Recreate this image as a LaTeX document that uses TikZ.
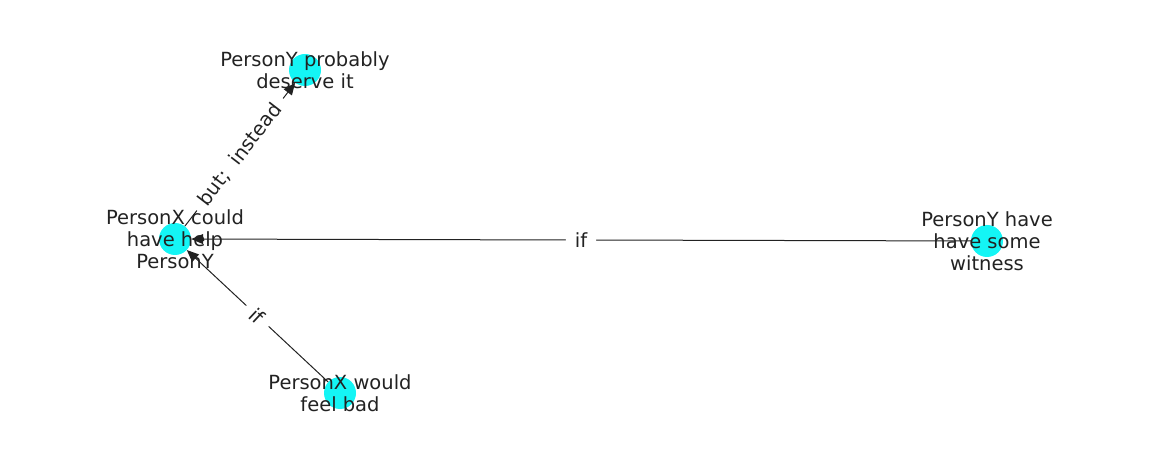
\documentclass[tikz,border=0pt]{standalone}
\usepackage{fontspec}
\setmainfont{DejaVu Sans}
\usepackage{tikz}
\usetikzlibrary{arrows.meta}
\definecolor{nodecyan}{RGB}{20,245,245}
\definecolor{inkgray}{RGB}{34,34,34}

\begin{document}
\begin{tikzpicture}[x=1pt,y=-1pt,font=\fontsize{19.5pt}{22pt}\selectfont,
  dot/.style={circle,fill=nodecyan,minimum size=32pt,inner sep=0pt},
  lbl/.style={align=center,text=inkgray,inner sep=0pt},
  arr/.style={-{Triangle[length=12pt,width=10pt]},draw=inkgray,line width=1pt},
  elbl/.style={midway,sloped,fill=white,text=inkgray,inner xsep=9pt,inner ysep=3pt}]
\useasboundingbox (0,0) rectangle (1162,462);
% nodes
\node[dot] (help) at (175,239) {};
\node[dot] (deserve) at (305,70) {};
\node[dot] (witness) at (987,241) {};
\node[dot] (bad) at (340,393) {};
% edges
\draw[arr] (help) -- (deserve) node[elbl] {but;\ \ instead};
\draw[arr] (witness) -- (help) node[elbl] {if};
\draw[arr] (bad) -- (help) node[elbl] {if};
% texts
\node[lbl] (helptext) at (help) {PersonX could\\have help\\PersonY};
\node[lbl] (deservetext) at (deserve) {PersonY probably\\deserve it};
\node[lbl] (witnesstext) at (witness) {PersonY have\\have some\\witness};
\node[lbl] (badtext) at (bad) {PersonX would\\feel bad};
\end{tikzpicture}
\end{document}
